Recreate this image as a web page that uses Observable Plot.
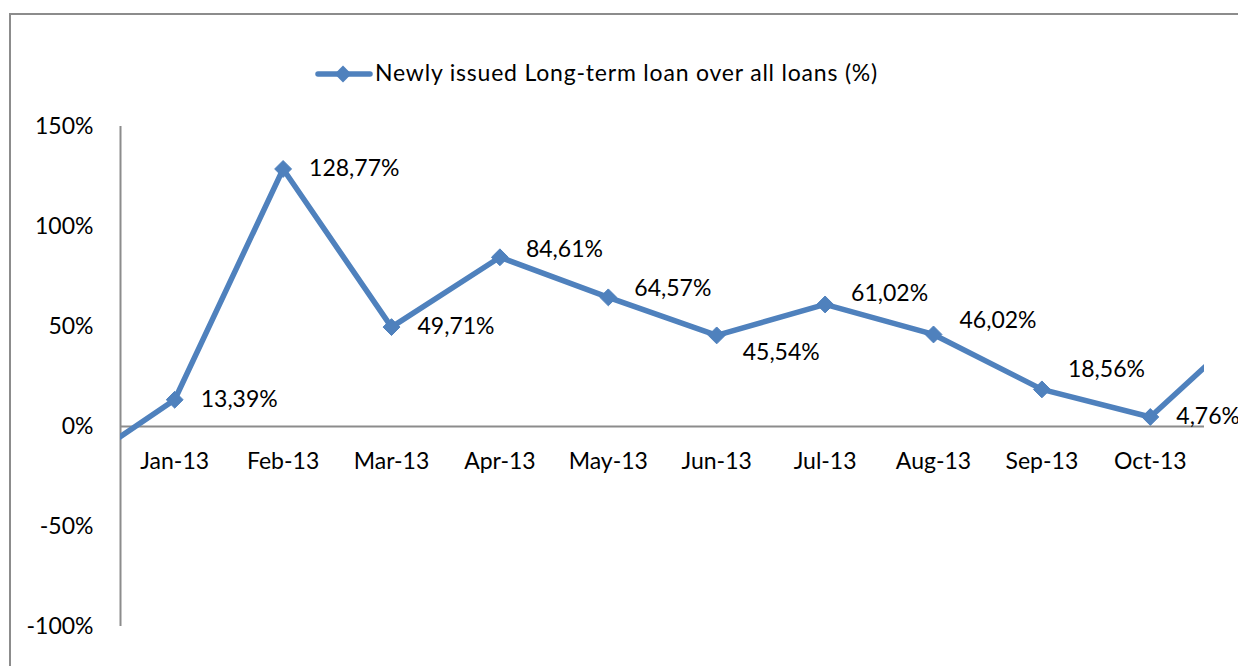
<!DOCTYPE html>
<html>
<head>
<meta charset="utf-8">
<script src="https://cdn.jsdelivr.net/npm/d3@7"></script>
<script src="https://cdn.jsdelivr.net/npm/@observablehq/plot@0.6"></script>
<style>
  html, body { margin: 0; padding: 0; background: #fff; }
  #wrap { position: relative; width: 1238px; height: 666px; overflow: hidden; }
  #frame { position: absolute; left: 9px; top: 13px; width: 1260px; height: 700px;
           border-left: 2px solid #8c8c8c; border-top: 2px solid #8c8c8c; pointer-events: none; }
  svg { position: absolute; left: 0; top: 0; }
</style>
</head>
<body>
<div id="wrap"><div id="frame"></div></div>
<script>
// Categories (visible months)
const months = ["Jan-13","Feb-13","Mar-13","Apr-13","May-13","Jun-13","Jul-13","Aug-13","Sep-13","Oct-13"];
// Values (%) for the visible months
const values = [13.39, 128.77, 49.71, 84.61, 64.57, 45.54, 61.02, 46.02, 18.56, 4.76];
// Neighbouring months, only partly visible (line clipped at the plot edges) – estimated
const prevValue = -23.5;   // Dec-12
const nextValue = 54.5;    // Nov-13
const yTicks = [-100, -50, 0, 50, 100, 150];
const seriesName = "Newly issued Long-term loan over all loans (%)";
// Label vertical nudges (style, as placed in the original)
const labelNudge = [0, 0, 0, -8, -9, 17, -11, -14, -20, 0];

const labels = values.map(v => v.toFixed(2).replace(".", ",") + "%");
const lineData = [prevValue, ...values, nextValue].map((v, i) => ({x: i - 1, y: v}));
const pts = values.map((v, i) => ({x: i, y: v, label: labels[i], nudge: labelNudge[i]}));

const color = "#4F81BD";
const font = "Lato, 'Open Sans', sans-serif";
const fs = 23;
const rDot = 7.6;

const chart = Plot.plot({
  width: 1238,
  height: 666,
  marginLeft: 120,
  marginRight: 34,
  marginTop: 126,
  marginBottom: 40,
  style: {fontFamily: font, fontSize: fs + "px", color: "#000", background: "transparent"},
  x: {type: "linear", domain: [-0.5, 9.5], axis: null},
  y: {domain: [-100, 150], axis: null},
  marks: [
    Plot.ruleY([0], {x1: -0.5, x2: 9.5, stroke: "#8c8c8c", strokeWidth: 2}),
    Plot.ruleX([-0.5], {y1: -100, y2: 150, stroke: "#8c8c8c", strokeWidth: 2}),
    Plot.text(yTicks, {x: -0.5, y: d => d, text: d => d + "%", textAnchor: "end", dx: -27, fill: "#000", fontSize: fs}),
    Plot.text(months, {x: (d, i) => i, y: 0, text: d => d, dy: 35, fill: "#000", fontSize: fs}),
    Plot.line(lineData, {x: "x", y: "y", stroke: color, strokeWidth: 5.5, clip: true}),
    Plot.dot(pts, {x: "x", y: "y", symbol: "diamond2", r: rDot, fill: color, stroke: color, strokeWidth: 1}),
    ...pts.map(p => Plot.text([p], {x: "x", y: "y", text: "label", textAnchor: "start", dx: 26, dy: p.nudge, fill: "#000", fontSize: fs}))
  ]
});

document.getElementById("wrap").appendChild(chart);

const svg = d3.select(chart);
// Legend
const lg = svg.append("g").attr("text-anchor", "start");
lg.append("line").attr("x1", 318).attr("x2", 370).attr("y1", 74).attr("y2", 74)
  .attr("stroke", color).attr("stroke-width", 5.5).attr("stroke-linecap", "round");
lg.append("path").attr("d", d3.symbol(d3.symbolDiamond2, rDot * rDot * Math.PI)())
  .attr("transform", "translate(343,74)").attr("fill", color);
lg.append("text").attr("x", 375).attr("y", 74).attr("dy", "0.32em").attr("text-anchor", "start")
  .attr("font-family", font).attr("font-size", fs).attr("letter-spacing", "0.8px")
  .attr("fill", "#000").text(seriesName);
</script>
</body>
</html>
